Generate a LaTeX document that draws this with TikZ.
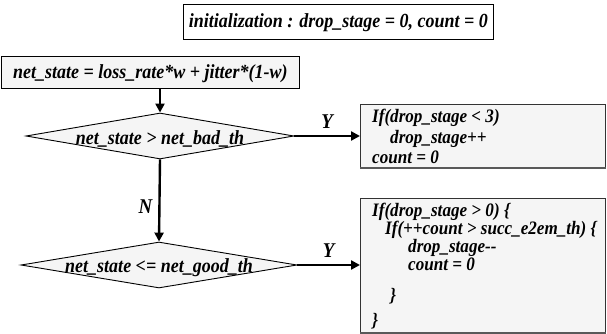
\documentclass[tikz,border=0pt]{standalone}
\usepackage{fontspec}
\setmainfont{Liberation Serif}[FakeStretch=0.9]
\usetikzlibrary{shapes.geometric,arrows.meta}
\begin{document}
\begin{tikzpicture}[x=1pt,y=-1pt,
  txt/.style={font=\fontsize{20}{18}\selectfont\bfseries\itshape, inner sep=0pt},
  codetxt/.style={font=\fontsize{19}{18}\selectfont\bfseries\itshape, inner sep=0pt, anchor=base west},
  plainbox/.style={draw, line width=0.9pt, fill=white, inner sep=0pt, anchor=north west},
  greybox/.style={draw, line width=0.9pt, fill=black!4, inner sep=0pt, anchor=north west},
  codebox/.style={draw=black!80, line width=1pt, fill=black!4, inner sep=0pt, anchor=north west},
  shadowline/.style={draw=black!65, line width=2.2pt},
  dia/.style={diamond, draw, line width=0.9pt, fill=black!4, inner sep=0pt},
  flow/.style={line width=2.4pt, -{Triangle[length=9pt,width=9pt]}},
  yn/.style={txt, font=\fontsize{21}{20}\selectfont\bfseries\itshape}
]
\useasboundingbox (0,0) rectangle (607,334);

% init box
\node[plainbox, minimum width=310pt, minimum height=35pt] (init) at (183,4) {};
\node[txt] (initt) at ([yshift=-1pt]init.center) {initialization : drop\_stage = 0, count = 0};

% net_state box
\node[greybox, minimum width=298pt, minimum height=32pt] (ns) at (1,56) {};
\node[txt] (nst) at ([yshift=-1pt]ns.center) {net\_state = loss\_rate*w + jitter*(1-w)};

% diamonds
\node[dia, minimum width=268pt, minimum height=46pt] (d1) at (160,136) {};
\node[txt] (d1t) at (160,139) {net\_state > net\_bad\_th};
\node[dia, minimum width=276pt, minimum height=46pt] (d2) at (159,265) {};
\node[txt] (d2t) at (159,268) {net\_state <= net\_good\_th};

% code boxes
\node[codebox, minimum width=245pt, minimum height=63pt] (b1) at (360,104) {};
\draw[shadowline] (b1.south west) -- (b1.south east);
\node[codetxt] (b1a) at (372,123) {If(drop\_stage < 3)};
\node[codetxt] (b1b) at (390,143) {drop\_stage++};
\node[codetxt] (b1c) at (372,163) {count = 0};

\node[codebox, minimum width=245pt, minimum height=134pt] (b2) at (360,198) {};
\draw[shadowline] (b2.south west) -- (b2.south east);
\node[codetxt] (b2a) at (372,216) {If(drop\_stage > 0) \{};
\node[codetxt] (b2b) at (385,234) {If(++count > succ\_e2em\_th) \{};
\node[codetxt] (b2c) at (408,252) {drop\_stage-{}-};
\node[codetxt] (b2d) at (408,270) {count = 0};
\node[codetxt] (b2e) at (390,301) {\}};
\node[codetxt] (b2f) at (372,326) {\}};

% connectors
\draw[flow] (ns.south -| d1.north) -- (d1.north);
\draw[flow] (d1.south) -- node[yn, left=6pt, pos=0.57] (nlab) {N} (d2.north);
\draw[flow] (d1.east) -- node[yn, above=6pt] (y1) {Y} (d1.east -| b1.west);
\draw[flow] (d2.east) -- node[yn, above=6pt] (y2) {Y} (d2.east -| b2.west);
\end{tikzpicture}
\end{document}
